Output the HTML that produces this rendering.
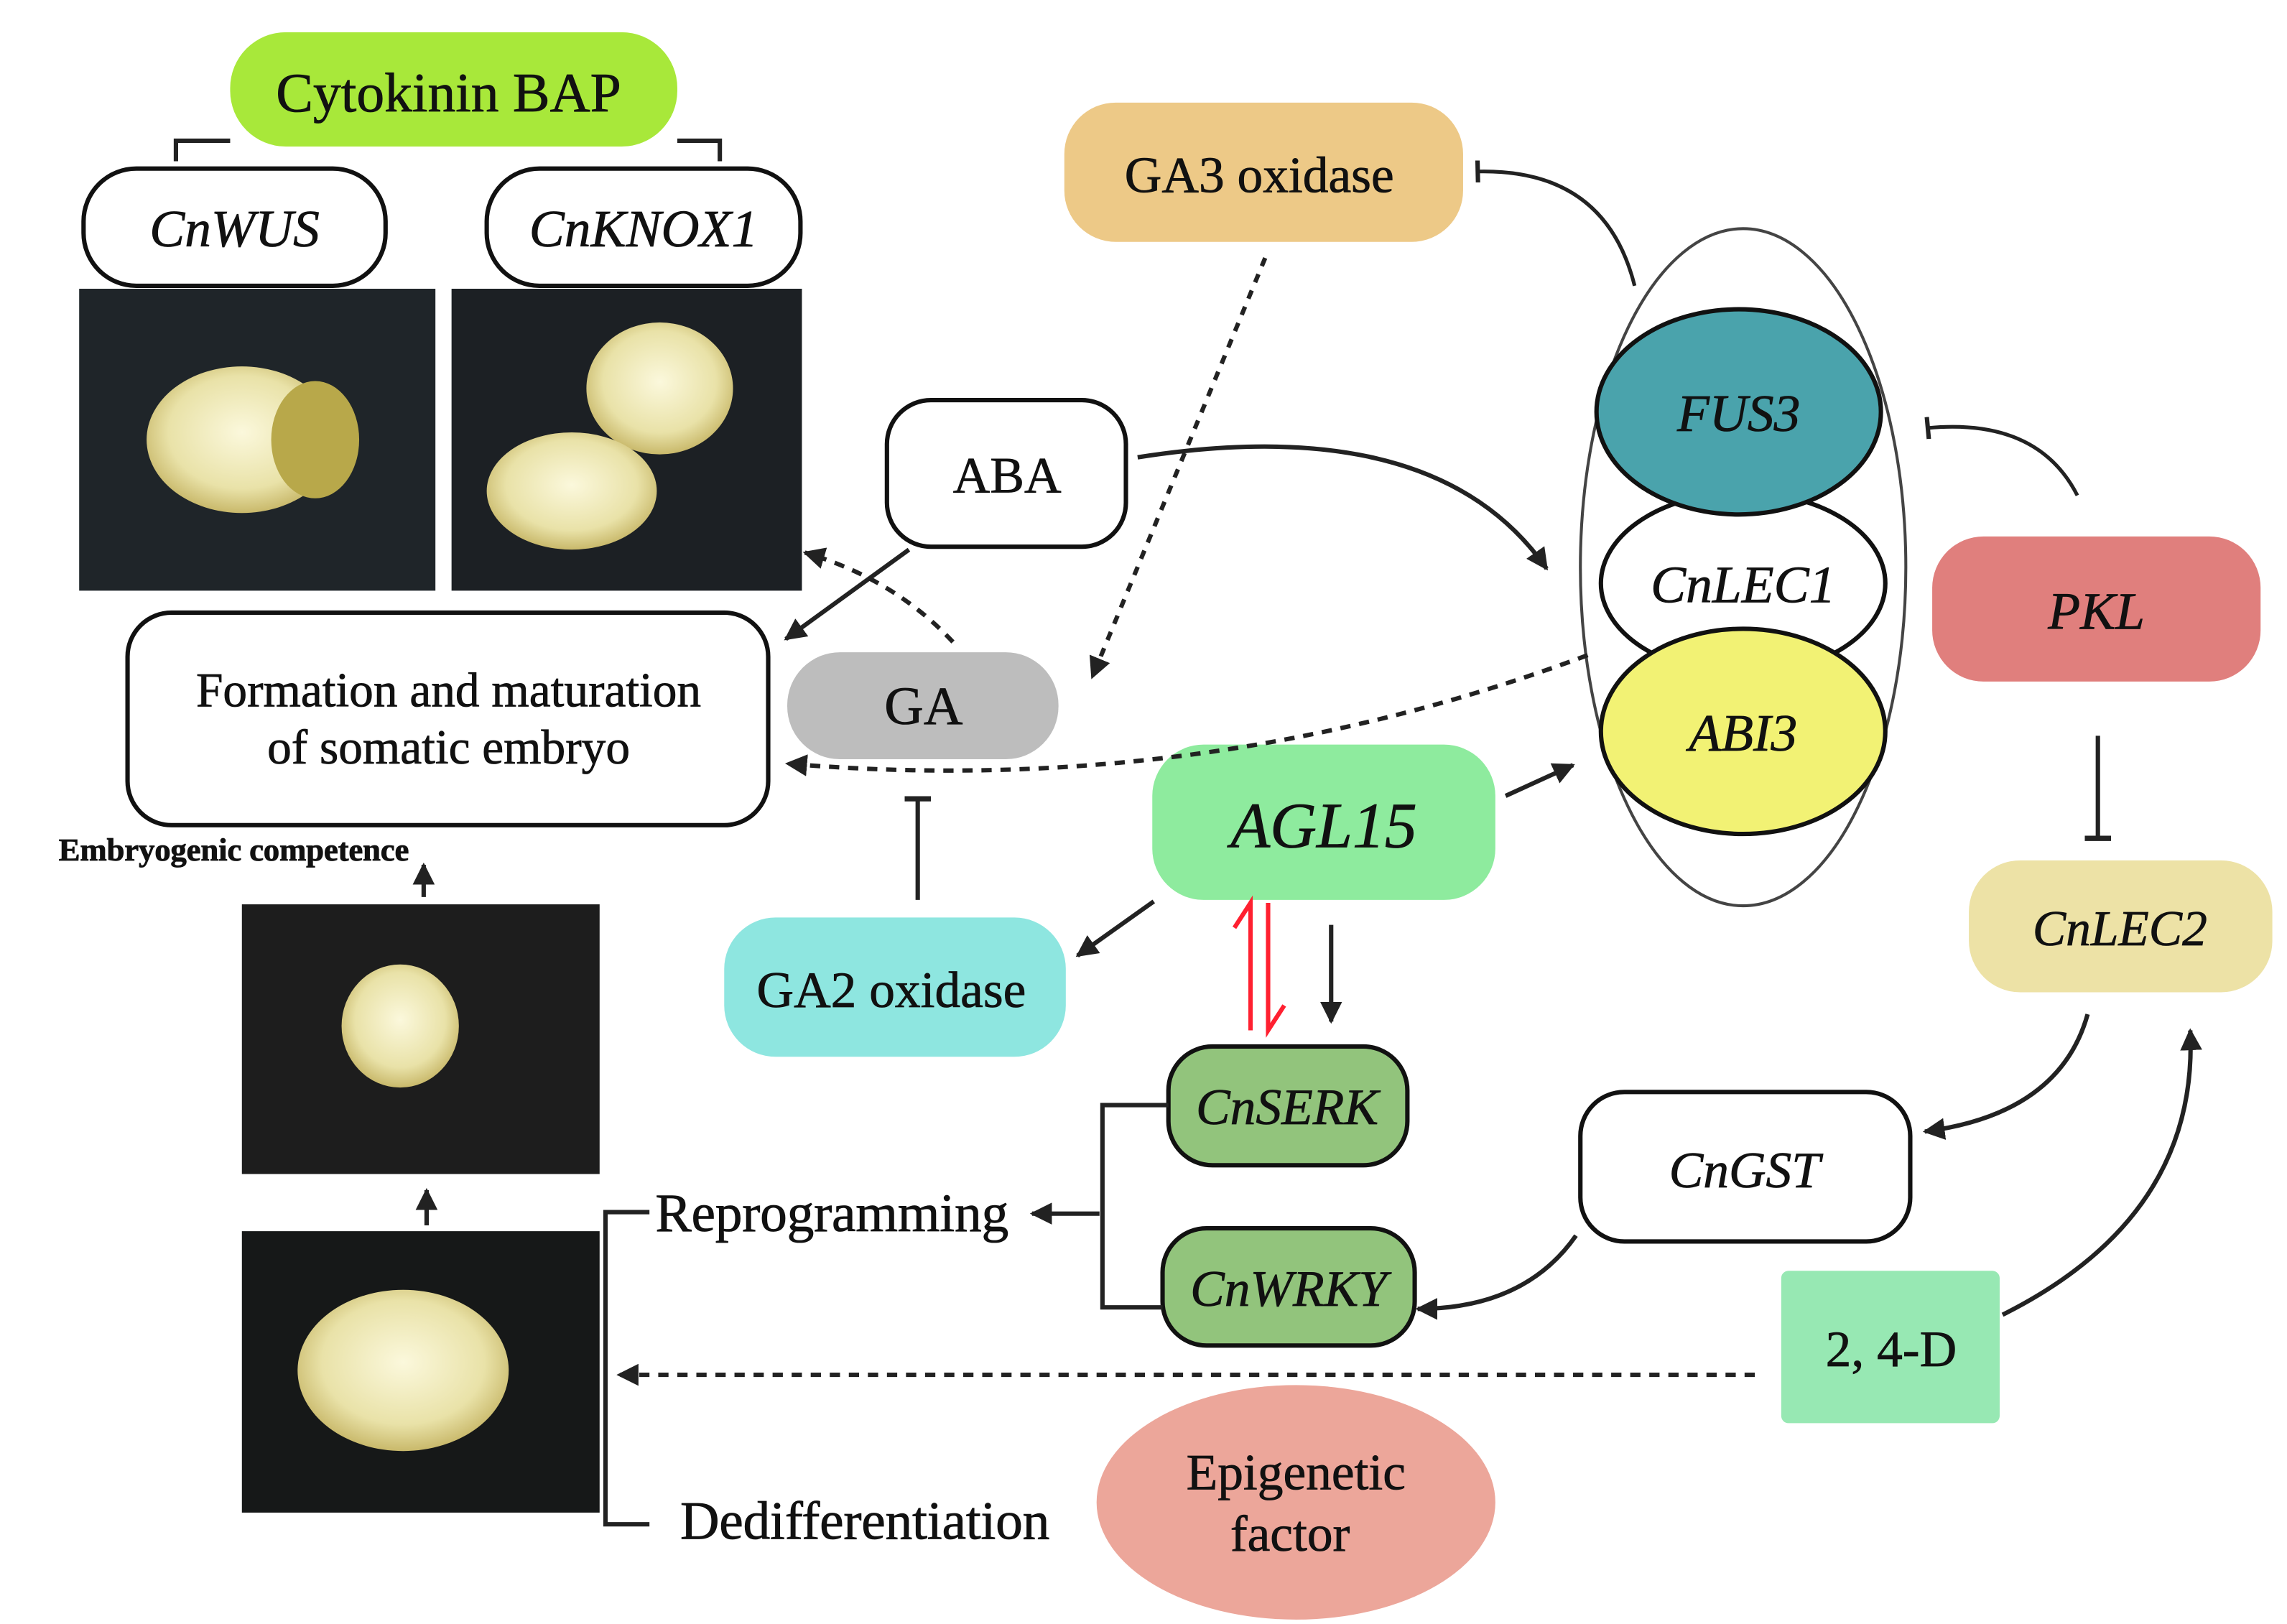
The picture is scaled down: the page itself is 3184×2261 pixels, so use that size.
<!DOCTYPE html>
<html><head><meta charset="utf-8"><style>
html,body{margin:0;padding:0;background:#fff;}
svg{display:block;}
text{font-family:"Liberation Serif",serif;fill:#111;stroke:#111;stroke-width:0.4;}
</style></head><body>
<svg width="3184" height="2261" viewBox="0 0 1560 1108" preserveAspectRatio="none" xmlns="http://www.w3.org/2000/svg">
<defs>
<marker id="ah" viewBox="0 0 10 10" refX="9" refY="5" markerWidth="5" markerHeight="5" orient="auto-start-reverse"><path d="M0,0 L10,5 L0,10 z" fill="#222"/></marker>
<marker id="tb" viewBox="0 0 10 10" refX="5" refY="5" markerWidth="6" markerHeight="6" orient="auto"><path d="M5,0 L5,10" stroke="#222" stroke-width="2"/></marker>
<radialGradient id="blob" cx="50%" cy="45%" r="55%"><stop offset="0" stop-color="#fbf8dc"/><stop offset="0.7" stop-color="#e9e2a8"/><stop offset="1" stop-color="#c9b96b"/></radialGradient>
</defs>

<path d="M120,110 V96 H157 M462,96 H491 V110" stroke="#222" stroke-width="3" fill="none"/>
<rect x="157" y="22" width="305" height="78" rx="38" fill="#a8e83a"/>
<text x="306" y="76" font-size="38" text-anchor="middle">Cytokinin BAP</text>
<rect x="57" y="115" width="206" height="80" rx="36" fill="#fff" stroke="#111" stroke-width="3"/>
<text x="160" y="168" font-size="36" font-style="italic" text-anchor="middle">CnWUS</text>
<rect x="332" y="115" width="214" height="80" rx="36" fill="#fff" stroke="#111" stroke-width="3"/>
<text x="439" y="168" font-size="36" font-style="italic" text-anchor="middle">CnKNOX1</text>

<rect x="54" y="197" width="243" height="206" fill="#1f2529"/>
<ellipse cx="165" cy="300" rx="65" ry="50" fill="url(#blob)"/>
<ellipse cx="215" cy="300" rx="30" ry="40" fill="#b8a84a"/>
<rect x="308" y="197" width="239" height="206" fill="#1c2024"/>
<ellipse cx="450" cy="265" rx="50" ry="45" fill="url(#blob)"/>
<ellipse cx="390" cy="335" rx="58" ry="40" fill="url(#blob)"/>
<rect x="165" y="617" width="244" height="184" fill="#1d1d1d"/>
<ellipse cx="273" cy="700" rx="40" ry="42" fill="url(#blob)"/>
<rect x="165" y="840" width="244" height="192" fill="#161818"/>
<ellipse cx="275" cy="935" rx="72" ry="55" fill="url(#blob)"/>

<rect x="87" y="418" width="437" height="145" rx="30" fill="#fff" stroke="#111" stroke-width="3"/>
<text x="306" y="482" font-size="33" text-anchor="middle">Formation and maturation</text>
<text x="306" y="521" font-size="33" text-anchor="middle">of somatic embryo</text>
<text x="40" y="587" font-size="22" font-weight="bold" textLength="239">Embryogenic competence</text>
<line x1="289" y1="612" x2="289" y2="590" stroke="#222" stroke-width="3" marker-end="url(#ah)"/>
<line x1="291" y1="836" x2="291" y2="812" stroke="#222" stroke-width="3" marker-end="url(#ah)"/>

<rect x="605" y="273" width="163" height="100" rx="30" fill="#fff" stroke="#111" stroke-width="3"/>
<text x="687" y="336" font-size="35" text-anchor="middle">ABA</text>
<rect x="537" y="445" width="185" height="73" rx="36" fill="#bdbdbd"/>
<text x="630" y="494" font-size="37" text-anchor="middle">GA</text>
<rect x="726" y="70" width="272" height="95" rx="35" fill="#edc987"/>
<text x="859" y="131" font-size="35" text-anchor="middle">GA3 oxidase</text>

<ellipse cx="1189" cy="387" rx="111" ry="231" fill="none" stroke="#444" stroke-width="2"/>
<ellipse cx="1189" cy="398" rx="97" ry="62" fill="#fff" stroke="#111" stroke-width="3"/>
<ellipse cx="1189" cy="499" rx="97" ry="70" fill="#f2f274" stroke="#111" stroke-width="3"/>
<ellipse cx="1186" cy="281" rx="97" ry="70" fill="#4aa3ac" stroke="#111" stroke-width="3"/>
<text x="1186" y="294" font-size="36" font-style="italic" text-anchor="middle">FUS3</text>
<text x="1189" y="411" font-size="36" font-style="italic" text-anchor="middle">CnLEC1</text>
<text x="1189" y="512" font-size="36" font-style="italic" text-anchor="middle">ABI3</text>

<rect x="1318" y="366" width="224" height="99" rx="35" fill="#e07f7d"/>
<text x="1430" y="429" font-size="36" font-style="italic" text-anchor="middle">PKL</text>
<rect x="1343" y="587" width="207" height="90" rx="35" fill="#ede2a6"/>
<text x="1446" y="645" font-size="34" font-style="italic" text-anchor="middle">CnLEC2</text>

<rect x="786" y="508" width="234" height="106" rx="35" fill="#8eeb9e"/>
<text x="903" y="578" font-size="44" font-style="italic" text-anchor="middle">AGL15</text>
<rect x="494" y="626" width="233" height="95" rx="35" fill="#8ee6e0"/>
<text x="608" y="687" font-size="35" text-anchor="middle">GA2 oxidase</text>

<rect x="797" y="714" width="163" height="81" rx="30" fill="#92c47c" stroke="#111" stroke-width="3"/>
<text x="878" y="767" font-size="35" font-style="italic" text-anchor="middle">CnSERK</text>
<rect x="793" y="838" width="172" height="80" rx="30" fill="#92c47c" stroke="#111" stroke-width="3"/>
<text x="879" y="891" font-size="35" font-style="italic" text-anchor="middle">CnWRKY</text>
<rect x="1078" y="745" width="225" height="102" rx="30" fill="#fff" stroke="#111" stroke-width="3"/>
<text x="1190" y="810" font-size="35" font-style="italic" text-anchor="middle">CnGST</text>
<rect x="1215" y="867" width="149" height="104" rx="5" fill="#97e8b3"/>
<text x="1290" y="932" font-size="35" text-anchor="middle">2, 4-D</text>
<ellipse cx="884" cy="1025" rx="136" ry="80" fill="#eca69a"/>
<text x="884" y="1016" font-size="35" text-anchor="middle">Epigenetic</text>
<text x="880" y="1058" font-size="35" text-anchor="middle">factor</text>

<path d="M443,827 H413 V1040 H443" stroke="#222" stroke-width="3" fill="none"/>
<text x="447" y="840" font-size="37" textLength="241">Reprogramming</text>
<text x="464" y="1050" font-size="37" textLength="252">Dedifferentiation</text>
<line x1="750" y1="828" x2="704" y2="828" stroke="#222" stroke-width="3" marker-end="url(#ah)"/>
<path d="M797,754 H752 V892 H793" stroke="#222" stroke-width="3" fill="none"/>
<line x1="1197" y1="938" x2="422" y2="938" stroke="#222" stroke-width="3" stroke-dasharray="7,6" marker-end="url(#ah)"/>

<line x1="620" y1="375" x2="536" y2="436" stroke="#222" stroke-width="3" marker-end="url(#ah)"/>
<path d="M650,438 Q610,395 549,377" stroke="#222" stroke-width="3" fill="none" stroke-dasharray="7,6" marker-end="url(#ah)"/>
<path d="M776,312 Q980,280 1055,388" stroke="#222" stroke-width="3" fill="none" marker-end="url(#ah)"/>
<line x1="863" y1="176" x2="745" y2="462" stroke="#222" stroke-width="3" stroke-dasharray="6,6" marker-end="url(#ah)"/>
<line x1="626" y1="614" x2="626" y2="545" stroke="#222" stroke-width="3" marker-end="url(#tb)"/>
<line x1="787" y1="615" x2="735" y2="652" stroke="#222" stroke-width="3" marker-end="url(#ah)"/>
<line x1="1027" y1="543" x2="1073" y2="522" stroke="#222" stroke-width="3" marker-end="url(#ah)"/>
<line x1="908" y1="631" x2="908" y2="697" stroke="#222" stroke-width="3" marker-end="url(#ah)"/>
<path d="M853,703 V616 L842,633 M865,616 V703 L876,686" stroke="#ff2030" stroke-width="3" fill="none"/>
<path d="M1083,447 Q820,545 537,521" stroke="#222" stroke-width="3" fill="none" stroke-dasharray="7,6" marker-end="url(#ah)"/>
<path d="M1115,195 Q1095,115 1008,117" stroke="#222" stroke-width="2.5" fill="none" marker-end="url(#tb)"/>
<path d="M1417,338 Q1390,285 1315,292" stroke="#222" stroke-width="2.5" fill="none" marker-end="url(#tb)"/>
<line x1="1431" y1="502" x2="1431" y2="572" stroke="#222" stroke-width="3" marker-end="url(#tb)"/>
<path d="M1424,692 Q1405,760 1313,772" stroke="#222" stroke-width="3" fill="none" marker-end="url(#ah)"/>
<path d="M1075,843 Q1040,893 967,893" stroke="#222" stroke-width="3" fill="none" marker-end="url(#ah)"/>
<path d="M1366,897 Q1500,830 1494,703" stroke="#222" stroke-width="3" fill="none" marker-end="url(#ah)"/>
</svg>
</body></html>
